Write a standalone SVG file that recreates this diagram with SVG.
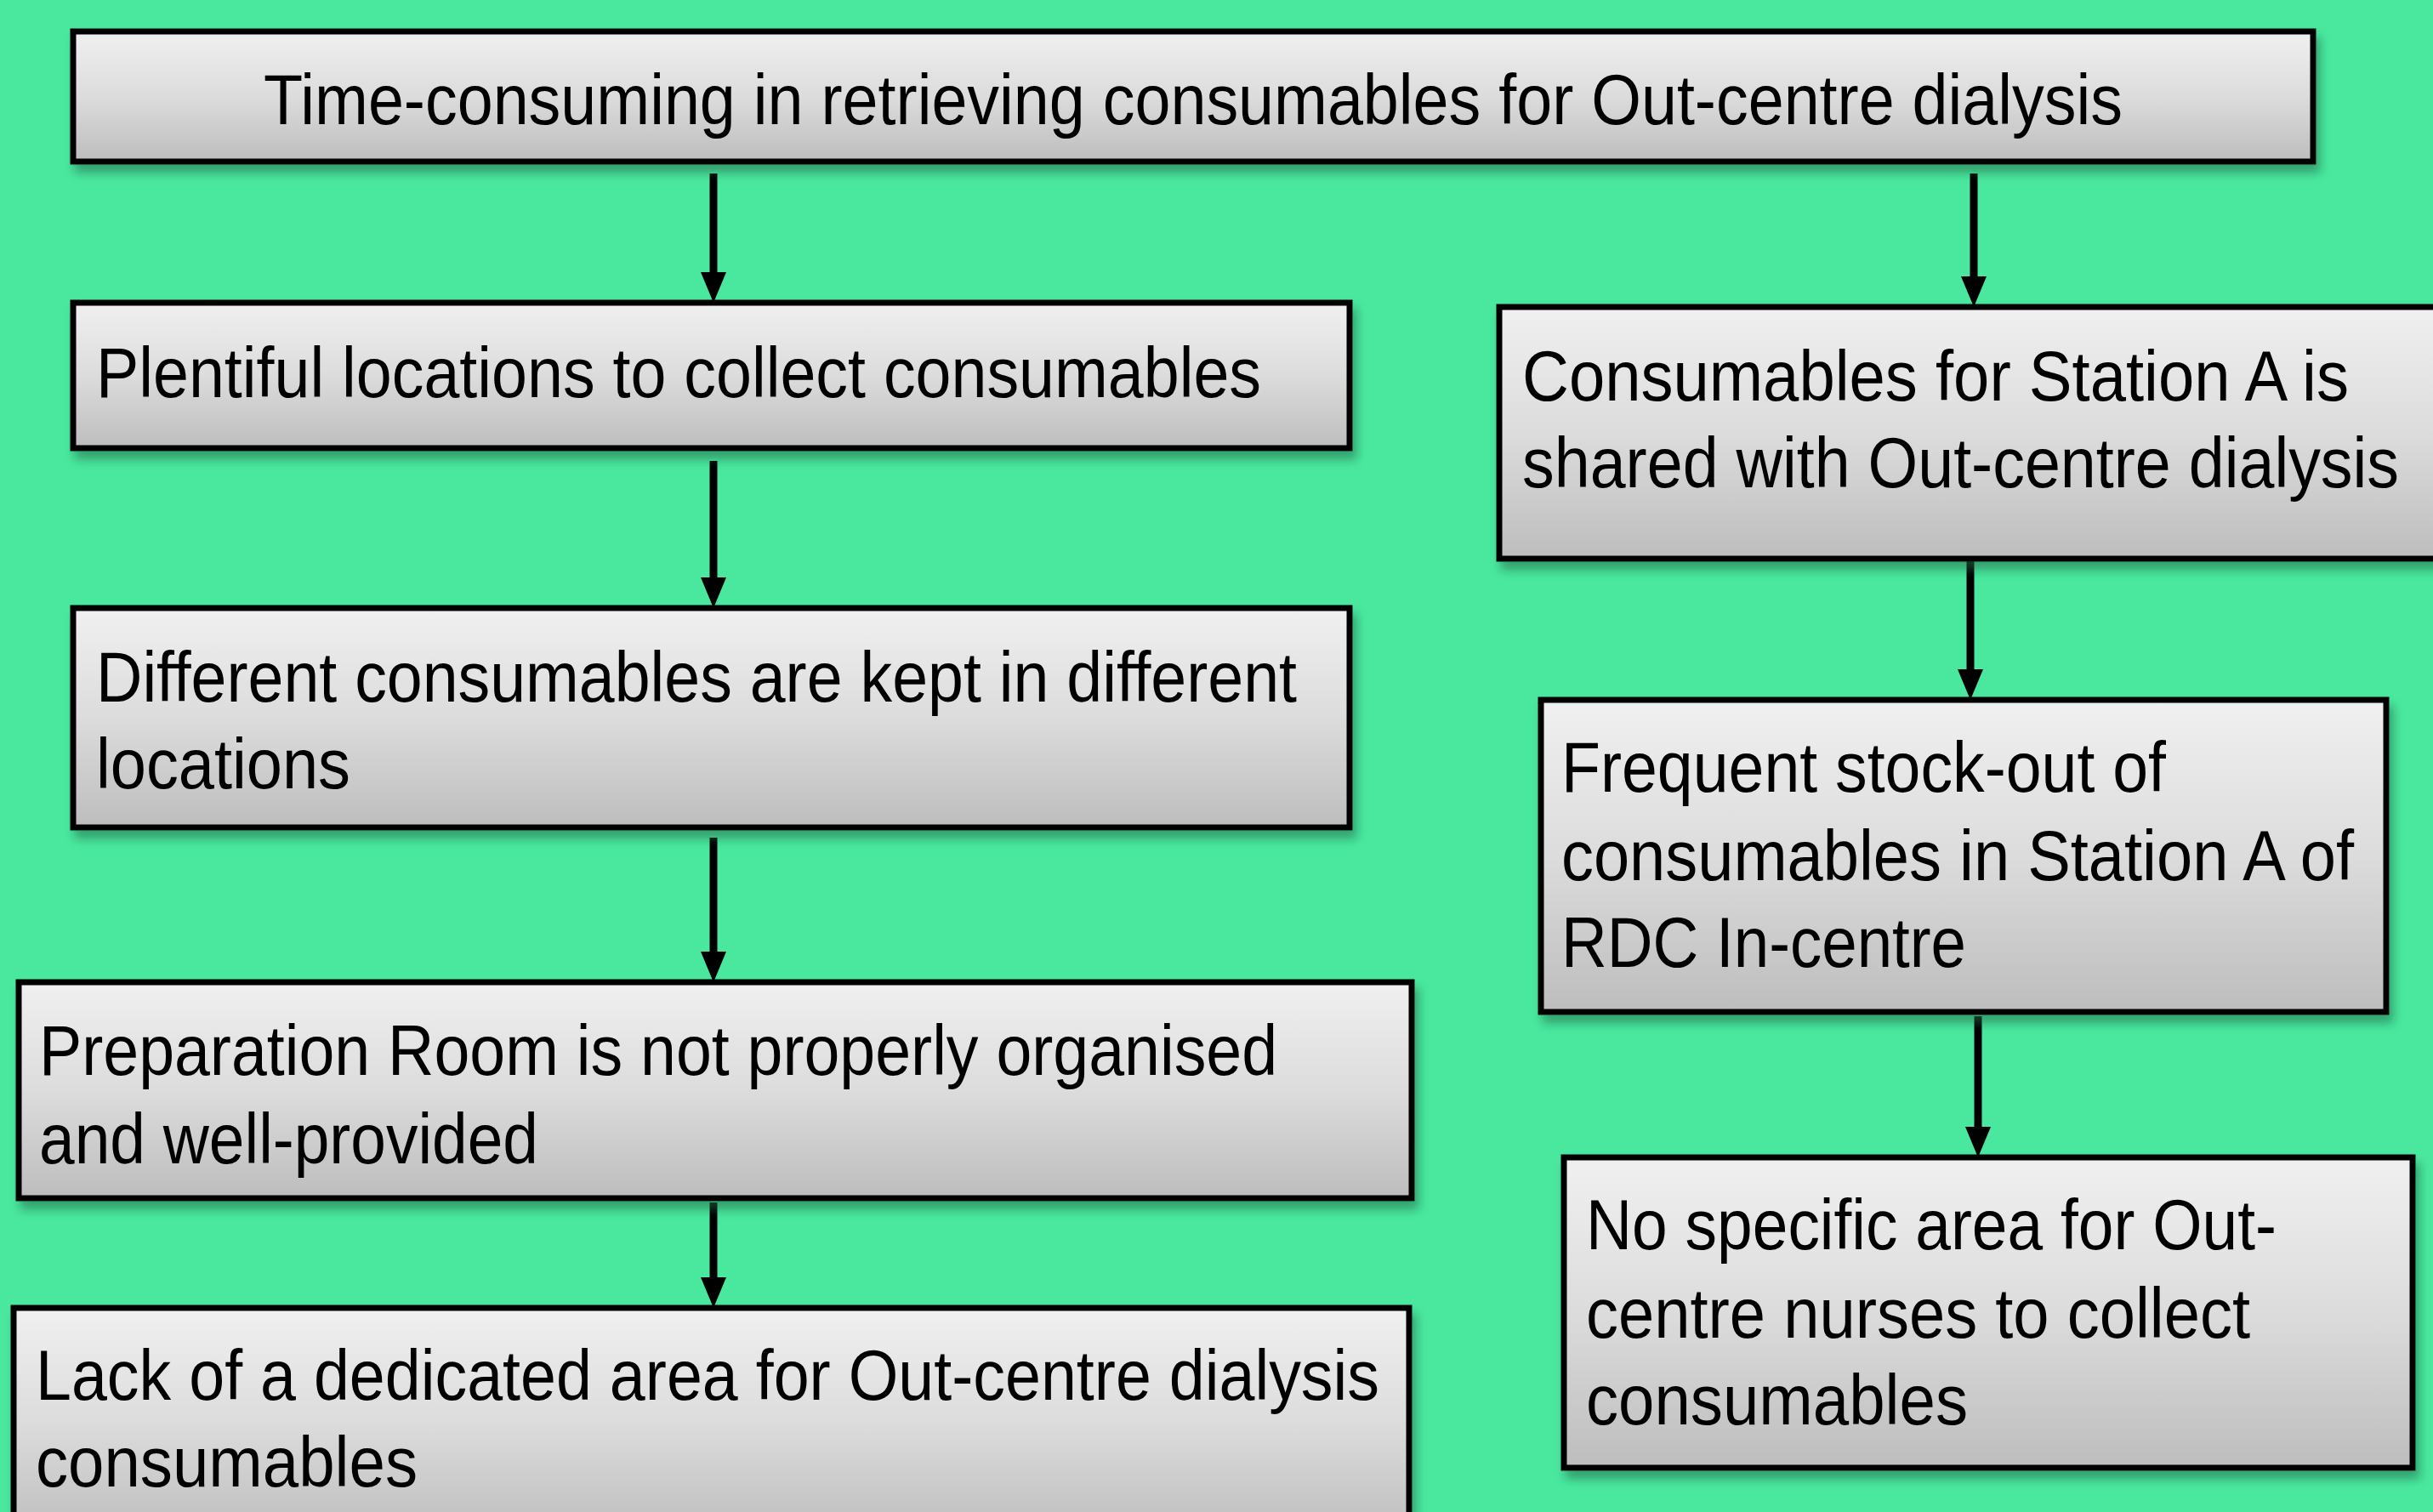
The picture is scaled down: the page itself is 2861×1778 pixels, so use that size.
<svg xmlns="http://www.w3.org/2000/svg" width="2861" height="1778" viewBox="0 0 2861 1778">
<defs>
<linearGradient id="g" x1="0" y1="0" x2="0" y2="1">
<stop offset="0" stop-color="#f0f0f0"/>
<stop offset="0.5" stop-color="#dcdcdc"/>
<stop offset="1" stop-color="#bdbdbd"/>
</linearGradient>
<filter id="sh" x="-5%" y="-10%" width="115%" height="130%">
<feDropShadow dx="5" dy="10" stdDeviation="6" flood-color="#1f6b47" flood-opacity="0.55"/>
</filter>
<marker id="ah" viewBox="0 0 36 30" refX="6" refY="15" markerWidth="36" markerHeight="30" markerUnits="userSpaceOnUse" orient="auto">
<path d="M0,0 L36,15 L0,30 z" fill="#000"/>
</marker>
</defs>
<style>
.box{fill:url(#g);stroke:#000;stroke-width:7;filter:url(#sh)}
.t{font-family:"Liberation Sans",Arial,sans-serif;font-size:84px;fill:#000}
.c{stroke:#000;stroke-width:9;fill:none;marker-end:url(#ah)}
</style>
<rect width="2861" height="1778" fill="#4ae89f"/>
<g id="connectors">
<line class="c" x1="839" y1="204" x2="839" y2="326"/>
<line class="c" x1="2321" y1="204" x2="2321" y2="331"/>
<line class="c" x1="839" y1="542" x2="839" y2="685"/>
<line class="c" x1="839" y1="985" x2="839" y2="1125"/>
<line class="c" x1="839" y1="1414" x2="839" y2="1508"/>
<line class="c" x1="2317" y1="657" x2="2317" y2="793"/>
<line class="c" x1="2326" y1="1195" x2="2326" y2="1331"/>
</g>
<g id="n-top">
<rect class="box" x="86" y="37" width="2634" height="153"/>
<text class="t" x="1403" y="146" text-anchor="middle" textLength="2186" lengthAdjust="spacingAndGlyphs">Time-consuming in retrieving consumables for Out-centre dialysis</text>
</g>
<g id="n-l1">
<rect class="box" x="86" y="356" width="1501" height="171"/>
<text class="t" x="113" y="467" textLength="1370" lengthAdjust="spacingAndGlyphs">Plentiful locations to collect consumables</text>
</g>
<g id="n-l2">
<rect class="box" x="86" y="715" width="1501" height="258"/>
<text class="t" x="113" y="825" textLength="1412" lengthAdjust="spacingAndGlyphs">Different consumables are kept in different</text>
<text class="t" x="113" y="927" textLength="299" lengthAdjust="spacingAndGlyphs">locations</text>
</g>
<g id="n-l3">
<rect class="box" x="22" y="1155" width="1638" height="254"/>
<text class="t" x="46" y="1264" textLength="1456" lengthAdjust="spacingAndGlyphs">Preparation Room is not properly organised</text>
<text class="t" x="46" y="1368" textLength="587" lengthAdjust="spacingAndGlyphs">and well-provided</text>
</g>
<g id="n-l4">
<rect class="box" x="16" y="1538" width="1641" height="270"/>
<text class="t" x="42" y="1646" textLength="1580" lengthAdjust="spacingAndGlyphs">Lack of a dedicated area for Out-centre dialysis</text>
<text class="t" x="42" y="1748" textLength="449" lengthAdjust="spacingAndGlyphs">consumables</text>
</g>
<g id="n-r1">
<rect class="box" x="1763" y="361" width="1120" height="296"/>
<text class="t" x="1790" y="471" textLength="972" lengthAdjust="spacingAndGlyphs">Consumables for Station A is</text>
<text class="t" x="1790" y="573" textLength="1031" lengthAdjust="spacingAndGlyphs">shared with Out-centre dialysis</text>
</g>
<g id="n-r2">
<rect class="box" x="1812" y="823" width="994" height="367"/>
<text class="t" x="1836" y="931" textLength="711" lengthAdjust="spacingAndGlyphs">Frequent stock-out of</text>
<text class="t" x="1836" y="1035" textLength="932" lengthAdjust="spacingAndGlyphs">consumables in Station A of</text>
<text class="t" x="1836" y="1137" textLength="476" lengthAdjust="spacingAndGlyphs">RDC In-centre</text>
</g>
<g id="n-r3">
<rect class="box" x="1839" y="1361" width="998" height="365"/>
<text class="t" x="1865" y="1469" textLength="812" lengthAdjust="spacingAndGlyphs">No specific area for Out-</text>
<text class="t" x="1865" y="1573" textLength="781" lengthAdjust="spacingAndGlyphs">centre nurses to collect</text>
<text class="t" x="1865" y="1675" textLength="449" lengthAdjust="spacingAndGlyphs">consumables</text>
</g>
</svg>
